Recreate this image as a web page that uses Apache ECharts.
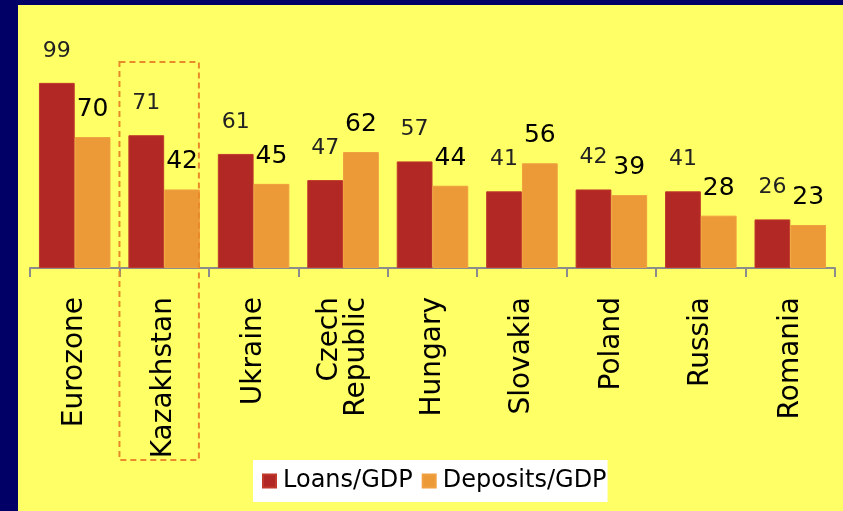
<!DOCTYPE html>
<html>
<head>
<meta charset="utf-8">
<script src="https://cdn.jsdelivr.net/npm/echarts@6/dist/echarts.min.js"></script>
<style>
  html, body { margin: 0; padding: 0; background: #000066; }
  #chart { position: absolute; left: 18px; top: 5px; width: 825px; height: 506px; }
</style>
</head>
<body>
<div id="chart"></div>
<script>
// categories and values
const countries = ["Eurozone", "Kazakhstan", "Ukraine", "Czech\nRepublic", "Hungary", "Slovakia", "Poland", "Russia", "Romania"];
const loansGdp = [99, 71, 61, 47, 57, 41, 42, 41, 26];
const depositsGdp = [70, 42, 45, 62, 44, 56, 39, 28, 23];

const chart = echarts.init(document.getElementById("chart"));
const font = "DejaVu Sans";

const option = {
    backgroundColor: "#FFFF66",
    animation: false,
    grid: { left: 12, right: 8, top: 76, height: 187 },
    legend: {
        data: ["Loans/GDP", "Deposits/GDP"],
        left: 235, top: 455,
        backgroundColor: "#ffffff",
        padding: [9, 1, 9, 9],
        icon: "rect",
        itemWidth: 13, itemHeight: 13,
        itemGap: 9,
        textStyle: { fontFamily: font, fontSize: 24, color: "#000", padding: [0, 0, 0, 2] }
    },
    xAxis: {
        type: "category",
        data: countries,
        axisLine: { lineStyle: { color: "#8c8c8c", width: 2 } },
        axisTick: { show: true, length: 9, lineStyle: { color: "#8c8c8c", width: 2 } },
        axisLabel: { rotate: 90, margin: 29, fontFamily: font, fontSize: 28, color: "#000", interval: 0, lineHeight: 27 }
    },
    yAxis: { type: "value", min: 0, max: 100, show: false },
    series: [
        {
            name: "Loans/GDP",
            type: "bar",
            data: loansGdp,
            barGap: "0%",
            barCategoryGap: "20%",
            itemStyle: { color: "#B22825", borderColor: "#C0392B", borderWidth: 1 },
            label: { show: true, position: "top", distance: 21, fontFamily: font, fontSize: 22, color: "#222" }
        },
        {
            name: "Deposits/GDP",
            type: "bar",
            data: depositsGdp,
            barGap: "0%",
            barCategoryGap: "20%",
            itemStyle: { color: "#EC9A38", borderColor: "#F0A040", borderWidth: 1 },
            label: { show: true, position: "top", distance: 15, fontFamily: font, fontSize: 25, color: "#000" }
        }
    ]
};
chart.setOption(option);

// dashed highlight box round Kazakhstan, placed from the axis scale
const band = chart.convertToPixel({ xAxisIndex: 0 }, "Kazakhstan");
const bandWidth = chart.convertToPixel({ xAxisIndex: 0 }, "Ukraine") - band;
chart.setOption({
    graphic: [{
        type: "rect",
        shape: { x: band - bandWidth / 2, y: 57, width: bandWidth - 10, height: 398 },
        style: { fill: "none", stroke: "#E8892A", lineWidth: 2, lineDash: [6, 4] },
        z: 10
    }]
});
</script>
</body>
</html>
